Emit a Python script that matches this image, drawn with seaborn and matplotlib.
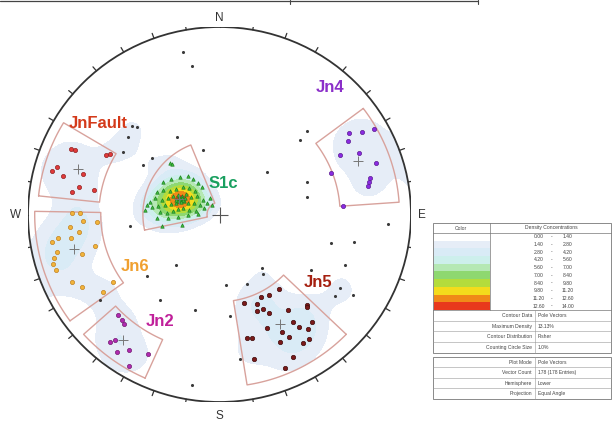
import numpy as np
import matplotlib
matplotlib.use("Agg")
import matplotlib.pyplot as plt
from matplotlib.patches import Circle, Rectangle
import seaborn as sns

sns.set_theme(style="white")
plt.rcParams['font.family'] = ['Liberation Sans', 'DejaVu Sans']

# pole positions, in units of the net radius (east, north)
jnfault_pts = [(-0.777, 0.348), (-0.755, 0.344), (-0.593, 0.317), (-0.572, 0.321), (-0.876, 0.234),
               (-0.850, 0.255), (-0.816, 0.205), (-0.711, 0.216), (-0.732, 0.145), (-0.772, 0.122),
               (-0.655, 0.131)]
jn6_pts = [(-0.772, 0.010), (-0.728, 0.010), (-0.781, -0.068), (-0.711, -0.033), (-0.641, -0.038),
           (-0.732, -0.092), (-0.777, -0.127), (-0.842, -0.127), (-0.876, -0.145), (-0.650, -0.168),
           (-0.850, -0.198), (-0.720, -0.211), (-0.864, -0.234), (-0.871, -0.264), (-0.854, -0.296),
           (-0.772, -0.362), (-0.720, -0.388), (-0.607, -0.412), (-0.555, -0.358)]
jn2_pts = [(-0.528, -0.536), (-0.511, -0.563), (-0.499, -0.586), (-0.572, -0.682), (-0.546, -0.669),
           (-0.537, -0.732), (-0.471, -0.723), (-0.372, -0.744), (-0.471, -0.806)]
jn4_pts = [(0.676, 0.436), (0.746, 0.442), (0.807, 0.456), (0.669, 0.392), (0.629, 0.317),
           (0.728, 0.326), (0.816, 0.273), (0.581, 0.220), (0.786, 0.193), (0.782, 0.175),
           (0.774, 0.152), (0.643, 0.045)]
jn5_pts = [(0.128, -0.474), (0.194, -0.477), (0.217, -0.438), (0.260, -0.429), (0.311, -0.396),
           (0.194, -0.515), (0.226, -0.506), (0.260, -0.524), (0.356, -0.509), (0.455, -0.483),
           (0.458, -0.495), (0.246, -0.607), (0.385, -0.572), (0.485, -0.572), (0.328, -0.625),
           (0.415, -0.598), (0.461, -0.612), (0.364, -0.652), (0.467, -0.664), (0.438, -0.687),
           (0.316, -0.680), (0.145, -0.657), (0.171, -0.657), (0.182, -0.771), (0.382, -0.758),
           (0.342, -0.817)]
s1c_pts = [(-0.258, 0.275), (-0.248, 0.269), (-0.295, 0.173), (-0.253, 0.189), (-0.206, 0.200),
           (-0.164, 0.205), (-0.138, 0.189), (-0.112, 0.168), (-0.091, 0.147), (-0.326, 0.120),
           (-0.295, 0.131), (-0.258, 0.125), (-0.227, 0.136), (-0.191, 0.147), (-0.159, 0.141),
           (-0.128, 0.125), (-0.363, 0.067), (-0.337, 0.088), (-0.300, 0.077), (-0.269, 0.088),
           (-0.243, 0.099), (-0.217, 0.104), (-0.196, 0.099), (-0.175, 0.109), (-0.149, 0.093),
           (-0.117, 0.099), (-0.086, 0.077), (-0.379, 0.051), (-0.352, 0.040), (-0.321, 0.045),
           (-0.285, 0.051), (-0.253, 0.056), (-0.227, 0.061), (-0.206, 0.077), (-0.185, 0.072),
           (-0.164, 0.061), (-0.133, 0.061), (-0.102, 0.051), (-0.065, 0.061), (-0.039, 0.051),
           (-0.311, 0.013), (-0.274, 0.008), (-0.243, 0.019), (-0.217, 0.029), (-0.191, 0.035),
           (-0.159, 0.024), (-0.123, 0.019), (-0.081, 0.035), (-0.326, -0.019), (-0.269, -0.019),
           (-0.217, -0.013), (-0.164, -0.003), (-0.112, 0.003), (-0.300, -0.061), (-0.196, -0.056),
           (-0.389, 0.024), (-0.050, 0.088),
           (-0.205, 0.085), (-0.195, 0.090), (-0.215, 0.070), (-0.190, 0.080), (-0.225, 0.080),
           (-0.200, 0.065), (-0.180, 0.088), (-0.210, 0.095)]
other_pts = [(-0.191, 0.867), (-0.144, 0.792), (-0.457, 0.472), (-0.431, 0.467), (-0.478, 0.413),
             (-0.222, 0.413), (-0.504, 0.333), (-0.399, 0.264), (-0.352, 0.301), (-0.467, -0.061),
             (0.457, 0.445), (0.457, 0.173), (0.457, 0.093), (0.880, -0.051), (-0.144, -0.909),
             (0.222, -0.285), (0.227, -0.317), (0.034, -0.376), (0.144, -0.371), (0.478, -0.296),
             (0.655, -0.269), (0.629, -0.392), (0.603, -0.435), (0.697, -0.429), (0.055, -0.541),
             (0.107, -0.771), (0.420, 0.397), (0.248, 0.227), (0.582, -0.152), (0.702, -0.147),
             (-0.227, -0.269), (-0.379, -0.328), (-0.128, -0.509), (-0.311, -0.456), (-0.624, -0.456),
             (-0.086, 0.344)]

set_names = ["JnFault", "Jn6", "S1c", "Jn4", "Jn2", "Jn5"]
set_points = [jnfault_pts, jn6_pts, s1c_pts, jn4_pts, jn2_pts, jn5_pts]
window_trend = [(276, 301), (234, 271), (258, 338), (53, 86), (204, 228), (134, 171)]
window_radius = [(0.63, 0.95), (0.62, 0.965), (0.065, 0.40), (0.63, 0.94), (0.73, 0.955), (0.465, 0.92)]
label_pos = [(-0.634, 0.483), (-0.441, -0.275), (0.018, 0.168), (0.577, 0.68), (-0.311, -0.573), (0.514, -0.365)]
label_colors = ["#d43a1a", "#f0a030", "#1aa060", "#8b2fc9", "#c0209a", "#a52010"]
point_colors = ["#e03a3a", "#f2b43a", "#3cc03c", "#8a2be2", "#b02ab0", "#7a1a1a"]
point_edges = ["#902020", "#c08020", "#208020", "#5a1a90", "#701a70", "#400c0c"]
point_markers = ["o", "o", "^", "o", "o", "o"]
point_sizes = [9, 9, 6, 9, 9, 10]

density_levels = [0.0, 1.4, 2.8, 4.2, 5.6, 7.0, 8.4, 9.8, 11.2, 12.6, 14.0]
density_colors = ["#ffffff", "#e6edf7", "#d9ebf6", "#cdefec", "#b5e8b4", "#8ed870",
                  "#b4dc3c", "#f4dc1c", "#f08a18", "#e8381c"]
max_density = 13.13
kappa = 90

info_rows_1 = [("Contour Data", "Pole Vectors"), ("Maximum Density", f"{max_density:.2f}%"),
               ("Contour Distribution", "Fisher"), ("Counting Circle Size", "1.0%")]
n_total = sum(len(p) for p in set_points) + len(other_pts)
info_rows_2 = [("Plot Mode", "Pole Vectors"), ("Vector Count", f"{n_total} ({n_total} Entries)"),
               ("Hemisphere", "Lower"), ("Projection", "Equal Angle")]


def to_vectors(x, y):
    r = np.hypot(x, y)
    th = 2 * np.arctan(r)
    az = np.arctan2(x, y)
    return np.stack([np.sin(th) * np.sin(az), np.sin(th) * np.cos(az), np.cos(th)], axis=-1)


def from_vector(v):
    v = v / np.linalg.norm(v)
    th = np.arccos(np.clip(v[2], -1, 1))
    r = np.tan(th / 2)
    az = np.arctan2(v[0], v[1])
    return r * np.sin(az), r * np.cos(az)


fig = plt.figure(figsize=(6.13, 4.23), dpi=100)

# overlay in pixel units for the table and the cut-off frame at the top
ax0 = fig.add_axes([0, 0, 1, 1])
ax0.set_xlim(0, 613)
ax0.set_ylim(423, 0)
ax0.axis("off")

ax = fig.add_axes([28 / 613, 21 / 423, 383 / 613, 375 / 423])
ax.set_xlim(-1, 1)
ax.set_ylim(-1, 1)
ax.axis("off")

# density (Fisher smoothing on the sphere)
all_pts = np.array([p for s in set_points for p in s] + other_pts)
gx, gy = np.meshgrid(np.linspace(-1, 1, 241), np.linspace(-1, 1, 241))
G = to_vectors(gx, gy)
P = to_vectors(all_pts[:, 0], all_pts[:, 1])
dens = np.zeros(gx.shape)
for v in P:
    dens += np.exp(kappa * (np.abs(G @ v) - 1))
dens = dens / dens.max() * max_density
dens[gx ** 2 + gy ** 2 > 1.0] = np.nan
ax.contourf(gx, gy, dens, levels=density_levels[1:], colors=density_colors[1:], zorder=1)

# net outline and ticks
ax.add_patch(Circle((0, 0), 1, fill=False, lw=1.3, ec="#333333", zorder=5))
for a in range(0, 360, 10):
    t = np.radians(a)
    ax.plot([np.sin(t), 1.028 * np.sin(t)], [np.cos(t), 1.028 * np.cos(t)], color="#333333", lw=0.9, zorder=5)
for lab, (lx, ly) in zip(["N", "E", "S", "W"], [(0, 1.05), (1.055, -0.005), (0, -1.072), (-1.063, 0.0)]):
    ax.text(lx, ly, lab, ha="center", va="center", fontsize=8.5, color="#333333")
ax.plot([0], [0], marker="+", markersize=12, color="#555555", mew=0.8, zorder=6)

# set windows
for (t1, t2), (r1, r2) in zip(window_trend, window_radius):
    tt = np.radians(np.linspace(t1, t2, 60))
    xs = np.concatenate([r2 * np.sin(tt), r1 * np.sin(tt[::-1]), [r2 * np.sin(tt[0])]])
    ys = np.concatenate([r2 * np.cos(tt), r1 * np.cos(tt[::-1]), [r2 * np.cos(tt[0])]])
    ax.plot(xs, ys, color="#d8a29c", lw=1.0, zorder=3)

# poles
sns.scatterplot(x=[p[0] for p in other_pts], y=[p[1] for p in other_pts], ax=ax, color="#3a3a3a",
                s=5, linewidth=0, legend=False, zorder=4)
for pts, c, ec, m, sz in zip(set_points, point_colors, point_edges, point_markers, point_sizes):
    sns.scatterplot(x=[p[0] for p in pts], y=[p[1] for p in pts], ax=ax, color=c, marker=m,
                    s=sz, edgecolor=ec, linewidth=0.5, legend=False, zorder=4)
    mx, my = from_vector(to_vectors(np.array([p[0] for p in pts]), np.array([p[1] for p in pts])).sum(axis=0))
    ax.plot([mx], [my], marker="+", markersize=7, color="#777777", mew=0.7, zorder=5)

for name, (lx, ly), c in zip(set_names, label_pos, label_colors):
    ax.text(lx, ly, name, ha="center", va="center", fontsize=12, fontweight="bold", color=c, zorder=7)

# cut-off frame line at the top
ax0.plot([0, 478], [1.5, 1.5], color="#444444", lw=0.9)
ax0.plot([290, 290], [0, 4], color="#444444", lw=0.8)
ax0.plot([478, 478], [0, 4], color="#444444", lw=0.8)

# legend table
tc = "#444444"
fs = 3.6
ax0.add_patch(Rectangle((433, 223), 178, 130, fill=False, lw=0.6, ec="#777777"))
ax0.plot([433, 611], [233, 233], color="#777777", lw=0.5)
ax0.plot([490, 490], [223, 310], color="#777777", lw=0.5)
ax0.text(461, 228, "Color", ha="center", va="center", fontsize=fs, color=tc)
ax0.text(551, 228, "Density Concentrations", ha="center", va="center", fontsize=fs, color=tc)
band_h = 77 / 10
for i in range(10):
    y0 = 233 + i * band_h
    ax0.add_patch(Rectangle((433.5, y0), 56, band_h, fc=density_colors[i], ec="none"))
    ax0.text(539, y0 + band_h / 2, f"{density_levels[i]:.2f}", ha="center", va="center", fontsize=fs, color=tc)
    ax0.text(552, y0 + band_h / 2, "-", ha="center", va="center", fontsize=fs, color=tc)
    ax0.text(568, y0 + band_h / 2, f"{density_levels[i + 1]:.2f}", ha="center", va="center", fontsize=fs, color=tc)
ax0.plot([433, 611], [310, 310], color="#777777", lw=0.5)
for j, (k, v) in enumerate(info_rows_1):
    y0 = 310 + j * 10.75
    if j > 0:
        ax0.plot([433, 611], [y0, y0], color="#999999", lw=0.4)
    ax0.text(532, y0 + 5.4, k, ha="right", va="center", fontsize=fs, color=tc)
    ax0.text(538, y0 + 5.4, v, ha="left", va="center", fontsize=fs, color=tc)
ax0.plot([535, 535], [310, 353], color="#999999", lw=0.4)

ax0.add_patch(Rectangle((433, 357), 178, 42, fill=False, lw=0.6, ec="#777777"))
for j, (k, v) in enumerate(info_rows_2):
    y0 = 357 + j * 10.5
    if j > 0:
        ax0.plot([433, 611], [y0, y0], color="#999999", lw=0.4)
    ax0.text(532, y0 + 5.3, k, ha="right", va="center", fontsize=fs, color=tc)
    ax0.text(538, y0 + 5.3, v, ha="left", va="center", fontsize=fs, color=tc)
ax0.plot([535, 535], [357, 399], color="#999999", lw=0.4)

plt.savefig("out.png", dpi=100)
plt.close()
